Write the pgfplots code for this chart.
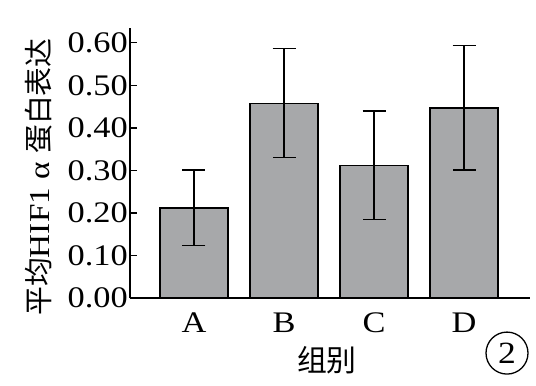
\documentclass[border=0pt]{standalone}
\usepackage{fontspec}
\setmainfont{Liberation Serif}[FakeStretch=1.15]
\newfontfamily\cjk{Noto Sans CJK SC}
\usepackage{pgfplots}
\pgfplotsset{compat=1.18}
\definecolor{barfill}{RGB}{167,168,170}
\begin{document}
\begin{tikzpicture}
\useasboundingbox (-130bp,-88bp) rectangle (406bp,298bp);
\begin{axis}[
  at={(0,0)}, anchor=south west,
  width=400bp, height=270bp, scale only axis,
  xmin=-0.711, xmax=3.733, ymin=0, ymax=0.635,
  axis x line=bottom, axis y line=left,
  axis line style={-, line width=1.2pt, black},
  xtick={0,1,2,3}, xticklabels={A,B,C,D},
  x tick style={draw=none},
  ytick={0,0.1,0.2,0.3,0.4,0.5,0.6},
  yticklabel style={/pgf/number format/fixed, /pgf/number format/fixed zerofill, /pgf/number format/precision=2, inner sep=2bp},
  xticklabel style={inner sep=2bp, yshift=-6bp},
  /pgf/number format/assume math mode=true,
  tick align=inside, major tick length=7bp,
  y tick style={line width=1.2pt, black},
  tick label style={font=\fontsize{30}{32}\selectfont},
  ybar, bar width=68bp,
  clip=false,
]
\addplot[fill=barfill, draw=black, line width=1.3pt,
  error bars/.cd, y dir=both, y explicit,
  error bar style={line width=1.2pt, black},
  error mark options={rotate=90, mark size=11.5bp, line width=1.2pt, black}]
  coordinates {
  (0,0.212) +- (0,0.089)
  (1,0.458) +- (0,0.128)
  (2,0.312) +- (0,0.128)
  (3,0.447) +- (0,0.146)
  };
\node[rotate=90, font=\fontsize{29}{31}\selectfont] at (rel axis cs:-0.2275,0.448) {{\cjk 平均}HIF1 α {\cjk 蛋白表达}};
\node[font=\fontsize{30}{32}\cjk] at (rel axis cs:0.4925,-0.23) {组别};
\node[circle, draw, line width=1.3pt, minimum size=42bp, inner sep=0pt, font=\fontsize{31}{33}\selectfont] at (rel axis cs:0.9425,-0.204) {2};
\end{axis}
\end{tikzpicture}
\end{document}
